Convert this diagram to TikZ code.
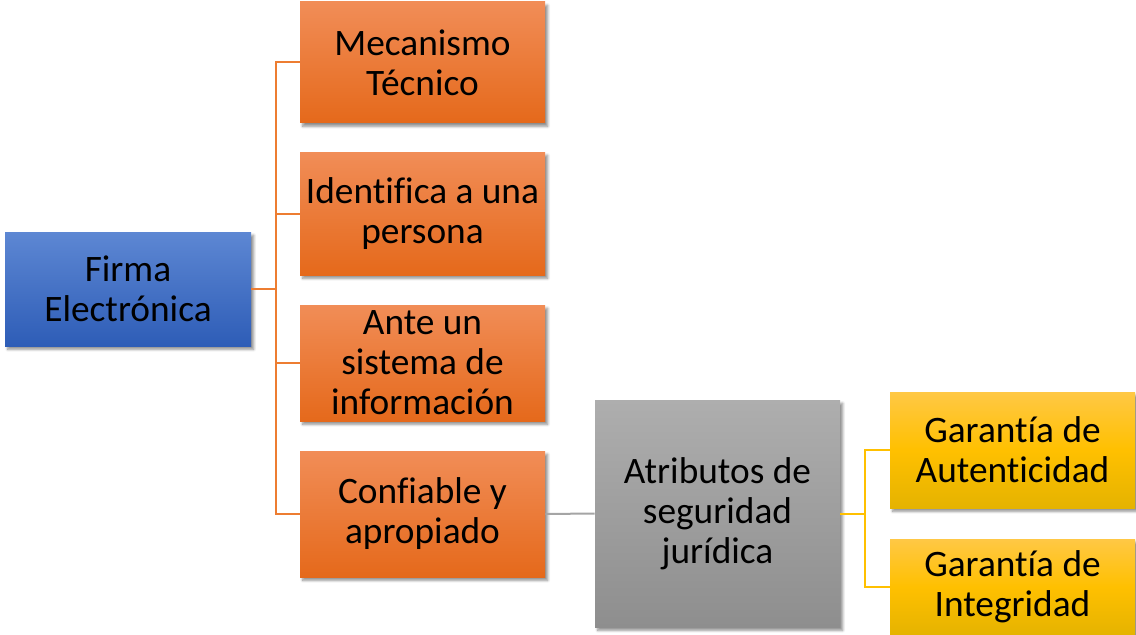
\documentclass[tikz,border=0pt]{standalone}
\usepackage{fontspec}
\setmainfont{Carlito}[Ligatures=NoCommon]
\usetikzlibrary{shadows.blur,calc}
\usepackage{xcolor}
\definecolor{azultop}{HTML}{5D87D3}
\definecolor{azulbot}{HTML}{2E5DB7}
\definecolor{narantop}{HTML}{F18D57}
\definecolor{naranbot}{HTML}{E5691B}
\definecolor{naranline}{HTML}{ED7D31}
\definecolor{gristop}{HTML}{AEAEAE}
\definecolor{grisbot}{HTML}{8E8E8E}
\definecolor{grisline}{HTML}{A5A5A5}
\definecolor{amartop}{HTML}{FFC845}
\definecolor{amarbot}{HTML}{E5B300}
\definecolor{amarline}{HTML}{FFC000}

\tikzset{
  caja/.style={rectangle, minimum width=183.75pt, minimum height=87pt, align=center,
    inner sep=0pt, font=\fontsize{28}{30}\selectfont,
    blur shadow={shadow xshift=2pt, shadow yshift=-2.5pt, shadow opacity=45, shadow blur steps=6}},
  azul/.style={caja, top color=azultop, bottom color=azulbot},
  naran/.style={caja, top color=narantop, bottom color=naranbot},
  gris/.style={caja, top color=gristop, bottom color=grisbot},
  amar/.style={caja, top color=amartop, bottom color=amarbot, middle color=amarline},
  rama/.style={line width=1.5pt}
}

\begin{document}
\begin{tikzpicture}[x=0.75pt,y=-0.75pt]

\useasboundingbox (0,0) rectangle (1136,635);

\node[azul, minimum width=184.5pt, minimum height=85.5pt] (firma) at (128,289) {Firma\\Electrónica};

\node[naran, minimum height=90.75pt] (mecanismo) at (422.5,62.5) {Mecanismo\\Técnico};
\node[naran, minimum height=92.25pt] (identifica) at (422.5,213.5) {Identifica a una\\persona};
\node[naran] (ante) at (422.5,363) {Ante un\\sistema de\\información};
\node[naran, minimum height=94.5pt] (confiable) at (422.5,514) {Confiable y\\apropiado};

\node[gris, minimum height=170.25pt] (atributos) at (717.5,513.5) {Atributos de\\seguridad\\jurídica};

\node[amar] (autenticidad) at (1012.5,450) {Garantía de\\Autenticidad};
\node[amar, minimum height=72pt] (integridad) at (1012.5,587) {Garantía de\\Integridad};

% ramas de la firma
\draw[rama, naranline] (firma.east) -- ++(25,0) |- (mecanismo.west);
\draw[rama, naranline] (firma.east) -- ++(25,0) |- (identifica.west);
\draw[rama, naranline] (firma.east) -- ++(25,0) |- (ante.west);
\draw[rama, naranline] (firma.east) -- ++(25,0) |- (confiable.west);

\draw[rama, grisline] (confiable.east) -- (atributos.west);

% garantias
\draw[rama, amarline] (atributos.east) -- ++(25,0) |- (autenticidad.west);
\draw[rama, amarline] (atributos.east) -- ++(25,0) |- (integridad.west);

\end{tikzpicture}
\end{document}
